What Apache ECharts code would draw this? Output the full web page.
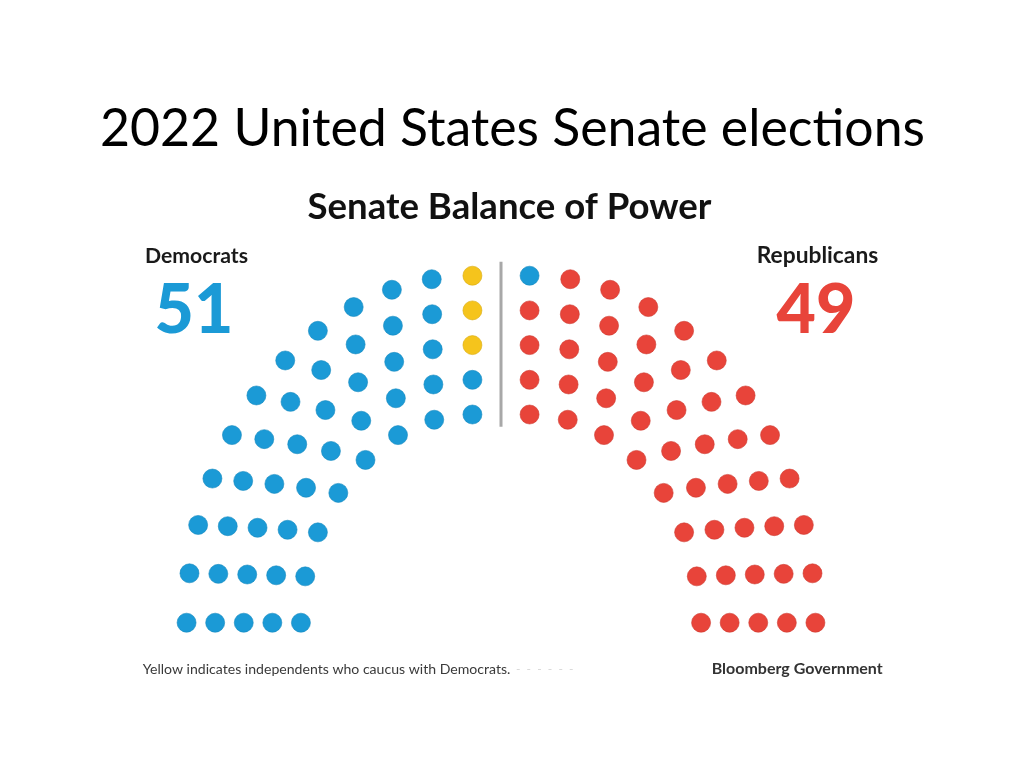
<!DOCTYPE html>
<html><head><meta charset="utf-8">
<script src="https://cdn.jsdelivr.net/npm/echarts@6/dist/echarts.min.js"></script>
<style>html,body{margin:0;padding:0;background:#fff}#chart{width:1024px;height:768px}</style>
</head><body><div id="chart"></div>
<script>
// ---- data ----
const chartTitle = '2022 United States Senate elections';
const chartSubtitle = 'Senate Balance of Power';
const parties = ['Democrats', 'Independents', 'Republicans'];
const partyColors = ['#1b9ad6', '#f5c41c', '#e8443a'];
const partyBorders = ['#1689c0', '#d9ab12', '#cf3a31'];
// seat blocks in the order they fill the chamber, sweeping from the left end to the right end
const seatBlockParty = ['Democrats', 'Independents', 'Democrats', 'Republicans'];
const seatBlockCount = [47, 3, 1, 49];
// chamber rings (inner to outer) and seats per ring in each half
const ringRadius = [6, 7, 8, 9, 10];
const ringSeatsPerHalf = [8, 9, 10, 11, 12];
const sideLabels = ['Democrats', 'Republicans'];
const sideParties = [['Democrats', 'Independents'], ['Republicans']];
const sideColors = ['#1b9ad6', '#e8443a'];
const footnote = 'Yellow indicates independents who caucus with Democrats.';
const sourceNote = 'Bloomberg Government';

// ---- seat layout (two quarter-arcs separated by an aisle) ----
const halfGap = 1;
const leftSeats = [], rightSeats = [];
ringRadius.forEach((r, k) => {
  const n = ringSeatsPerHalf[k];
  for (let i = 0; i < n; i++) {
    const t = i / (n - 1);
    const a = t * Math.PI / 2;
    leftSeats.push({ t, r, x: -(halfGap + r * Math.cos(a)), y: r * Math.sin(a) });
    rightSeats.push({ t, r, x: halfGap + r * Math.cos(a), y: r * Math.sin(a) });
  }
});
leftSeats.sort((p, q) => p.t - q.t || p.r - q.r);
rightSeats.sort((p, q) => q.t - p.t || q.r - p.r);
const seatOrder = leftSeats.concat(rightSeats);
const seatsByParty = {};
parties.forEach(p => seatsByParty[p] = []);
let cursor = 0;
seatBlockParty.forEach((p, b) => {
  for (let j = 0; j < seatBlockCount[b]; j++) {
    const s = seatOrder[cursor++];
    seatsByParty[p].push([s.x, s.y]);
  }
});
const sideTotals = sideParties.map(list => list.reduce((acc, p) => acc + seatsByParty[p].length, 0));

// ---- text fitting helper ----
const mctx = document.createElement('canvas').getContext('2d');
function fitSize(text, weight, family, width) {
  mctx.font = weight + ' 100px ' + family;
  return 100 * width / mctx.measureText(text).width;
}
function txt(text, x, y, size, weight, family, color, align) {
  return {
    type: 'text', silent: true,
    style: {
      text, x, y, fill: color,
      font: weight + ' ' + size.toFixed(2) + 'px ' + family,
      align, textAlign: align, verticalAlign: 'middle', textVerticalAlign: 'middle'
    }
  };
}
const titleFont = 'Lato';
const gfxFont = 'Lato';

const series = parties.map((p, i) => ({
  name: p, type: 'scatter', data: seatsByParty[p], symbolSize: 19,
  itemStyle: { color: partyColors[i], borderColor: partyBorders[i], borderWidth: 0.6, opacity: 1 },
  emphasis: { disabled: true }, z: 3
}));
series.push({
  name: 'aisle', type: 'line', symbol: 'none', silent: true, z: 2,
  data: [[0, ringRadius[0] - 0.35], [0, ringRadius[ringRadius.length - 1] + 0.4]],
  lineStyle: { color: '#a8a8a8', width: 3 }
});

const graphics = [
  txt(chartTitle, 512.5, 129, fitSize(chartTitle, 400, titleFont, 825), 400, titleFont, '#000', 'center'),
  txt(chartSubtitle, 509.5, 207, fitSize(chartSubtitle, 700, gfxFont, 404), 700, gfxFont, '#111', 'center'),
  txt(sideLabels[0], 145, 256, fitSize(sideLabels[0], 700, gfxFont, 103), 700, gfxFont, '#1a1a1a', 'left'),
  txt(sideLabels[1], 756.7, 256, fitSize(sideLabels[1], 700, gfxFont, 121.6), 700, gfxFont, '#1a1a1a', 'left'),
  txt(String(sideTotals[0]), 194, 311, 68, 900, gfxFont, sideColors[0], 'center'),
  txt(String(sideTotals[1]), 816, 311, 68, 900, gfxFont, sideColors[1], 'center'),
  txt(footnote, 142.7, 669, fitSize(footnote, 400, gfxFont, 368), 400, gfxFont, '#3a3a3a', 'left'),
  txt('-  -  -  -  -  -', 516, 669, 12, 400, gfxFont, '#d6d6d6', 'left'),
  txt(sourceNote, 711.7, 669, fitSize(sourceNote, 700, gfxFont, 171), 700, gfxFont, '#333', 'left')
];

const chart = echarts.init(document.getElementById('chart'), null, { renderer: 'canvas' });
chart.setOption({
  animation: false,
  backgroundColor: '#fff',
  grid: { left: 158, top: 241, width: 686, height: 416.4 },
  xAxis: { type: 'value', min: -12, max: 12, show: false },
  yAxis: { type: 'value', min: -1, max: 11, show: false },
  series,
  graphic: graphics
});
</script></body></html>
